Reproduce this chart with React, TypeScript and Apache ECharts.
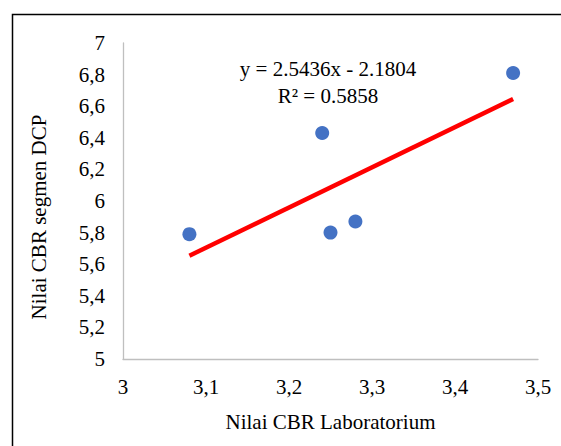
import React, { useEffect, useRef } from "react";
import * as echarts from "echarts";

const xTitle = "Nilai CBR Laboratorium";
const yTitle = "Nilai CBR segmen DCP";
const equationLines = ["y = 2.5436x - 2.1804", "R² = 0.5858"];

const labCBR = [3.08, 3.24, 3.25, 3.28, 3.47];
const dcpCBR = [5.79, 6.43, 5.8, 5.87, 6.81];

const trendX = [3.08, 3.47];
const trendY = [5.654, 6.646];

const FONT = "Liberation Serif";

const fmt = (v: number) => String(+v.toFixed(1)).replace(".", ",");

export default function App() {
  const ref = useRef<HTMLDivElement>(null);
  useEffect(() => {
    if (!ref.current) return;
    const chart = echarts.init(ref.current, undefined, { renderer: "svg" });
    chart.setOption({
      animation: false,
      backgroundColor: "#ffffff",
      textStyle: { fontFamily: FONT },
      grid: { left: 123, top: 43, width: 415, height: 316 },
      xAxis: {
        type: "value",
        min: 3,
        max: 3.5,
        interval: 0.1,
        axisLine: { lineStyle: { color: "#bfbfbf", width: 1.3 } },
        axisTick: { show: false },
        splitLine: { show: false },
        axisLabel: {
          margin: 17,
          color: "#000",
          fontFamily: FONT,
          fontSize: 21,
          formatter: fmt,
        },
        name: xTitle,
        nameLocation: "middle",
        nameGap: 52,
        nameTextStyle: { color: "#000", fontFamily: FONT, fontSize: 21 },
      },
      yAxis: {
        type: "value",
        min: 5,
        max: 7,
        interval: 0.2,
        axisLine: { show: true, lineStyle: { color: "#bfbfbf", width: 1.3 } },
        axisTick: { show: false },
        splitLine: { show: false },
        axisLabel: {
          margin: 18,
          color: "#000",
          fontFamily: FONT,
          fontSize: 21,
          formatter: fmt,
        },
      },
      graphic: [
        {
          type: "rect",
          shape: { x: 12.5, y: 14.5, width: 600, height: 500 },
          style: { fill: "none", stroke: "#000", lineWidth: 1.5 },
          silent: true,
        },
        {
          type: "text",
          x: 39,
          y: 217,
          rotation: Math.PI / 2,
          style: {
            text: yTitle,
            fill: "#000",
            fontFamily: FONT,
            fontSize: 21,
            textAlign: "center",
            textVerticalAlign: "middle",
          },
        },
        {
          type: "text",
          x: 328,
          y: 69,
          style: {
            text: equationLines[0],
            fill: "#000",
            fontFamily: FONT,
            fontSize: 21,
            textAlign: "center",
            textVerticalAlign: "middle",
          },
        },
        {
          type: "text",
          x: 328,
          y: 96,
          style: {
            text: equationLines[1],
            fill: "#000",
            fontFamily: FONT,
            fontSize: 21,
            textAlign: "center",
            textVerticalAlign: "middle",
          },
        },
      ],
      series: [
        {
          type: "line",
          data: trendX.map((x, i) => [x, trendY[i]]),
          symbol: "none",
          lineStyle: { color: "#ff0000", width: 4.5 },
          z: 2,
        },
        {
          type: "scatter",
          data: labCBR.map((x, i) => [x, dcpCBR[i]]),
          symbolSize: 14,
          itemStyle: { color: "#4472c4", opacity: 1 },
          z: 3,
        },
      ],
    });
    return () => chart.dispose();
  }, []);
  return (
    <div
      ref={ref}
      style={{ position: "absolute", left: 0, top: 0, width: 561, height: 446 }}
    />
  );
}
